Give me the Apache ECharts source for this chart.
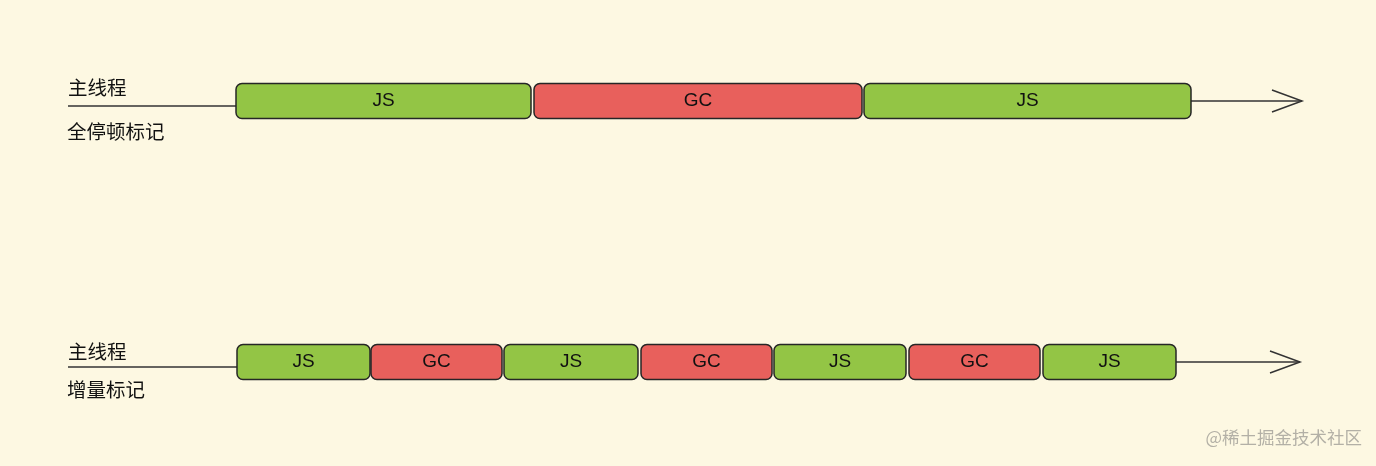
<!DOCTYPE html>
<html>
<head>
<meta charset="utf-8">
<script src="https://cdn.jsdelivr.net/npm/echarts@6/dist/echarts.min.js"></script>
<style>
html,body{margin:0;padding:0;background:#fdf8e2;}
#c{width:1376px;height:466px;}
</style>
</head>
<body>
<div id="c"></div>
<script>
// Row names (thread label + marking mode)
const threadName = '主线程';
const rowModes = ['全停顿标记', '增量标记'];
// Timeline extents per row: [lineStart, lineEnd]
const timelineStart = [68, 68];
const timelineEnd = [1302, 1300];
// Segments per row: [type, start, end]
const fullPauseSegments = [
  ['JS', 236, 531],
  ['GC', 534, 862],
  ['JS', 864, 1191]
];
const incrementalSegments = [
  ['JS', 237, 370],
  ['GC', 371, 502],
  ['JS', 504, 638],
  ['GC', 641, 772],
  ['JS', 774, 906],
  ['GC', 909, 1040],
  ['JS', 1043, 1176]
];
const rowCenters = [101, 362];
const watermark = '@稀土掘金技术社区';

const colors = { JS: '#93c545', GC: '#e8605c' };
const FONT = '"Noto Sans CJK SC", "Noto Sans", sans-serif';

const segData = [];
fullPauseSegments.forEach(s => segData.push([s[1], s[2], rowCenters[0], s[0]]));
incrementalSegments.forEach(s => segData.push([s[1], s[2], rowCenters[1], s[0]]));

const allSegs = [fullPauseSegments, incrementalSegments];
const lineData = rowCenters.map((y, i) => {
  const segs = allSegs[i];
  return [timelineStart[i], segs[0][1], segs[segs.length - 1][2], timelineEnd[i], y];
});

const chart = echarts.init(document.getElementById('c'));
chart.setOption({
  backgroundColor: '#fdf8e2',
  animation: false,
  grid: { left: 0, right: 0, top: 0, bottom: 0 },
  xAxis: { type: 'value', min: 0, max: 1376, show: false },
  yAxis: { type: 'value', min: 0, max: 466, inverse: true, show: false },
  graphic: [
    { type: 'text', left: 68, top: 78, style: { text: threadName, font: '19.5px ' + FONT, fill: '#111' } },
    { type: 'text', left: 67, top: 122, style: { text: rowModes[0], font: '19.5px ' + FONT, fill: '#111' } },
    { type: 'text', left: 68, top: 342, style: { text: threadName, font: '19.5px ' + FONT, fill: '#111' } },
    { type: 'text', left: 67, top: 380, style: { text: rowModes[1], font: '19.5px ' + FONT, fill: '#111' } },
    { type: 'text', right: 14, top: 429, style: { text: watermark, font: '17.5px ' + FONT, fill: '#b3b0a6' } }
  ],
  series: [
    {
      type: 'custom',
      coordinateSystem: 'cartesian2d',
      data: lineData,
      encode: { x: [0, 3], y: 4 },
      z: 1,
      renderItem: function (params, api) {
        const y = api.coord([0, api.value(4)])[1];
        const x0 = api.coord([api.value(0), 0])[0];
        const x1 = api.coord([api.value(1), 0])[0];
        const x2 = api.coord([api.value(2), 0])[0];
        const x3 = api.coord([api.value(3), 0])[0];
        const st = { stroke: '#333', lineWidth: 1.5, fill: null };
        return {
          type: 'group',
          children: [
            { type: 'line', shape: { x1: x0, y1: y + 5, x2: x1, y2: y + 5 }, style: st },
            { type: 'line', shape: { x1: x2, y1: y, x2: x3, y2: y }, style: st },
            { type: 'polyline', shape: { points: [[x3 - 30, y - 11], [x3, y], [x3 - 30, y + 11]] }, style: st }
          ]
        };
      }
    },
    {
      type: 'custom',
      coordinateSystem: 'cartesian2d',
      data: segData,
      encode: { x: [0, 1], y: 2 },
      z: 2,
      renderItem: function (params, api) {
        const p0 = api.coord([api.value(0), api.value(2)]);
        const p1 = api.coord([api.value(1), api.value(2)]);
        const h = 35;
        const type = segData[params.dataIndex][3];
        return {
          type: 'group',
          children: [
            {
              type: 'rect',
              shape: { x: p0[0], y: p0[1] - h / 2, width: p1[0] - p0[0], height: h, r: 6 },
              style: { fill: colors[type], stroke: '#262626', lineWidth: 1.5 }
            },
            {
              type: 'text',
              x: (p0[0] + p1[0]) / 2,
              y: p0[1],
              style: { text: type, font: '19px "Liberation Sans", Arial, sans-serif', fill: '#111', align: 'center', verticalAlign: 'middle' }
            }
          ]
        };
      }
    }
  ]
});
</script>
</body>
</html>
